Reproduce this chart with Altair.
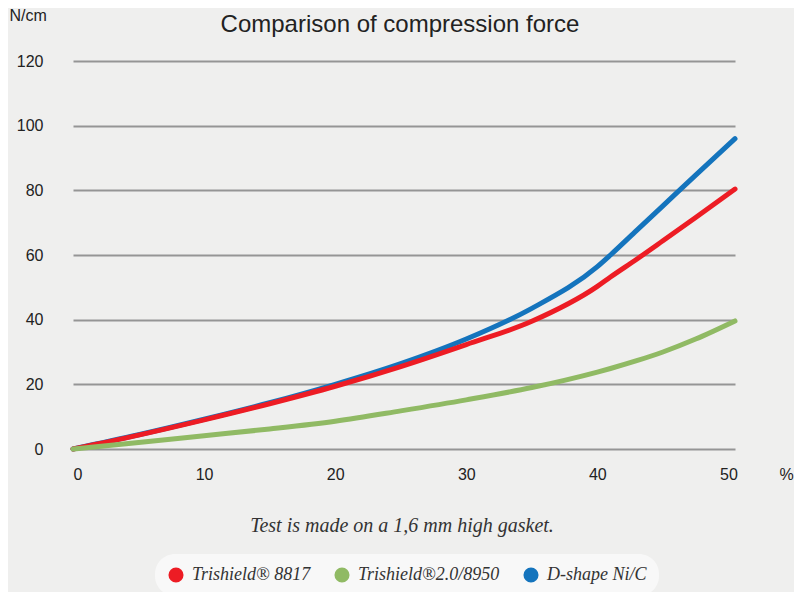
import altair as alt
import pandas as pd

# ---- data ----
compression = [0, 5, 10, 15, 20, 25, 30, 35, 40, 41, 43, 45, 47.5, 50.5]
trishield_8817 = [0, 4.3, 9.0, 14.0, 19.4, 25.5, 32.3, 39.5, 50.3, 53.2, 58.7, 64.4, 71.6, 80.4]
trishield_8950 = [0, 2.0, 4.1, 6.2, 8.6, 11.8, 15.2, 19.0, 23.8, 24.9, 27.3, 30.0, 34.0, 39.6]
dshape_nic = [0, 4.4, 9.2, 14.3, 20.0, 26.4, 34.0, 43.5, 56.4, 60.0, 67.6, 75.2, 84.7, 96.0]

series_names = ["Trishield® 8817", "Trishield®2.0/8950", "D-shape Ni/C"]
series_colors = ["#ED1C24", "#90BA64", "#1474BD"]
x_ticks = [0, 10, 20, 30, 40, 50]
y_ticks = [0, 20, 40, 60, 80, 100, 120]

title_text = "Comparison of compression force"
note_text = "Test is made on a 1,6 mm high gasket."

SANS = "Liberation Sans, Arial, Helvetica, sans-serif"
SERIF = "Liberation Serif, DejaVu Serif, serif"

# draw order: blue below, then red, then green on top
rows = []
for name, vals in [("D-shape Ni/C", dshape_nic),
                   ("Trishield® 8817", trishield_8817),
                   ("Trishield®2.0/8950", trishield_8950)]:
    for x, y in zip(compression, vals):
        rows.append({"series": name, "x": x, "y": y})
df = pd.DataFrame(rows)

x_enc = alt.X("x:Q", scale=alt.Scale(domain=[0, 50.5], nice=False),
              axis=alt.Axis(values=x_ticks, grid=False, domain=False, ticks=False,
                            labelFont=SANS, labelFontSize=16, labelColor="#222",
                            labelPadding=17, title="%", titleFont=SANS,
                            titleFontSize=16, titleFontWeight="normal", titleColor="#222",
                            titleX=713, titleY=30, titleAlign="center",
                            titleBaseline="alphabetic"))
y_enc = alt.Y("y:Q", scale=alt.Scale(domain=[0, 120], nice=False),
              axis=alt.Axis(values=y_ticks, grid=True, gridColor="#959595", gridWidth=2,
                            domain=False, ticks=False, labelFont=SANS, labelFontSize=16,
                            labelColor="#222", labelPadding=30, title="N/cm",
                            titleFont=SANS, titleFontSize=16, titleFontWeight="normal",
                            titleColor="#222", titleAngle=0, titleX=-64, titleY=-41,
                            titleAlign="left", titleBaseline="alphabetic"))

color_scale = alt.Scale(domain=series_names, range=series_colors)

points = alt.Chart(df).transform_filter(alt.datum.x == 0).mark_point(
    filled=True, size=10, opacity=1
).encode(
    x=x_enc, y=y_enc,
    color=alt.Color("series:N", scale=color_scale,
                    legend=alt.Legend(orient="none", legendX=82, legendY=493,
                                      direction="horizontal", title=None,
                                      symbolType="circle", symbolSize=227,
                                      symbolStrokeWidth=0,
                                      labelFont=SERIF, labelFontStyle="italic",
                                      labelFontSize=18, labelColor="#333",
                                      labelLimit=300, labelOffset=7,
                                      columnPadding=22, fillColor="#f8f8f8",
                                      cornerRadius=20, padding=12))
)

lines = alt.Chart(df).mark_line(
    strokeWidth=5, strokeCap="round", strokeJoin="round", interpolate="monotone"
).encode(
    x=x_enc, y=y_enc,
    color=alt.Color("series:N", scale=color_scale, legend=None),
    detail="series:N",
)

title = alt.Chart(pd.DataFrame({"t": [title_text]})).mark_text(
    font=SANS, fontSize=24, color="#222", align="center", baseline="alphabetic"
).encode(text="t:N", x=alt.value(327), y=alt.value(-29))

note = alt.Chart(pd.DataFrame({"t": [note_text]})).mark_text(
    font=SERIF, fontStyle="italic", fontSize=20, color="#333",
    align="center", baseline="alphabetic"
).encode(text="t:N", x=alt.value(329), y=alt.value(471))

chart = alt.layer(points, lines, title, note).properties(
    width=662, height=388,
    autosize=alt.AutoSizeParams(type="none"),
    padding={"left": 65, "top": 53, "right": 59, "bottom": 143},
    background="#efefee",
).configure_view(stroke=None)

chart.save("out.html", embed_options={"renderer": "svg", "actions": False})
